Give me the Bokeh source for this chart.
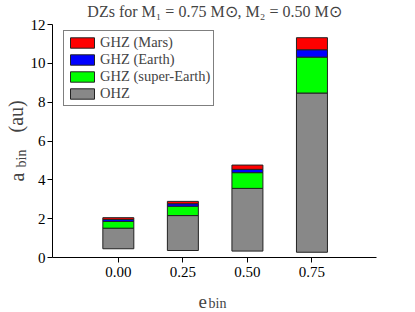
import math
from bokeh.plotting import figure
from bokeh.models import (Label, Legend, LegendItem, FixedTicker, NumeralTickFormatter, Range1d)
from bokeh.embed import file_html
from bokeh.resources import INLINE

# ---- data ----
e_bin = [0.00, 0.25, 0.50, 0.75]
ohz_inner = [0.45, 0.36, 0.33, 0.27]
ohz_outer = [1.51, 2.16, 3.56, 8.47]
ghz_super_earth = [1.86, 2.64, 4.37, 10.32]
ghz_earth = [1.96, 2.77, 4.54, 10.70]
ghz_mars = [2.05, 2.89, 4.76, 11.32]
x_ticks = [0.00, 0.25, 0.50, 0.75]
y_ticks = [0, 2, 4, 6, 8, 10, 12]
x_lim = (-0.255, 1.0)
y_lim = (0, 12)

FONT = "Liberation Serif"
W, H = 415, 312
# data area inside the canvas (px): left, right, top, bottom
L, R, T, B = 52, 376, 24, 257
sx = (R - L) / (x_lim[1] - x_lim[0])
sy = (B - T) / (y_lim[1] - y_lim[0])
xr = Range1d(x_lim[0] - L / sx, x_lim[1] + (W - R) / sx)
yr = Range1d(y_lim[0] - (H - B) / sy, y_lim[1] + T / sy)

p = figure(width=W, height=H, output_backend="svg", toolbar_location=None,
           x_range=xr, y_range=yr, min_border=0)
p.outline_line_color = None
p.xgrid.grid_line_color = None
p.ygrid.grid_line_color = None

w = 0.12
lc = "#222222"
r_ohz = p.vbar(x=e_bin, bottom=ohz_inner, top=ohz_outer, width=w, fill_color="#888888", line_color=lc, line_width=1)
r_sup = p.vbar(x=e_bin, bottom=ohz_outer, top=ghz_super_earth, width=w, fill_color="#00ff00", line_color=lc, line_width=1)
r_ear = p.vbar(x=e_bin, bottom=ghz_super_earth, top=ghz_earth, width=w, fill_color="#0000ff", line_color=lc, line_width=1)
r_mar = p.vbar(x=e_bin, bottom=ghz_earth, top=ghz_mars, width=w, fill_color="#ff0000", line_color=lc, line_width=1)

for ax in (p.xaxis[0], p.yaxis[0]):
    ax.axis_line_color = "black"
    ax.axis_line_width = 1
    ax.major_tick_line_color = "black"
    ax.major_tick_out = 5
    ax.major_tick_in = 0
    ax.minor_tick_line_color = None
    ax.major_label_text_font = FONT
    ax.major_label_text_font_size = "15px"
    ax.major_label_text_color = "black"

p.xaxis[0].ticker = FixedTicker(ticks=x_ticks)
p.xaxis[0].formatter = NumeralTickFormatter(format="0.00")
p.xaxis[0].major_label_standoff = 4
p.xaxis[0].fixed_location = y_lim[0]
p.xaxis[0].bounds = x_lim
p.yaxis[0].ticker = FixedTicker(ticks=y_ticks)
p.yaxis[0].major_label_standoff = 2
p.yaxis[0].fixed_location = x_lim[0]
p.yaxis[0].bounds = y_lim

legend = Legend(items=[
    LegendItem(label="GHZ (Mars)", renderers=[r_mar]),
    LegendItem(label="GHZ (Earth)", renderers=[r_ear]),
    LegendItem(label="GHZ (super-Earth)", renderers=[r_sup]),
    LegendItem(label="OHZ", renderers=[r_ohz]),
], location=(63, 206))
legend.glyph_width = 30
legend.glyph_height = 13
legend.label_height = 13
legend.label_standoff = 3
legend.padding = 3
legend.spacing = 0
legend.margin = 0
legend.label_text_font = FONT
legend.label_text_font_size = "14.5px"
legend.border_line_color = "black"
legend.border_line_width = 1.5
legend.background_fill_alpha = 1
p.add_layout(legend)

# title and axis labels (with subscripts), placed in screen units
p.add_layout(Label(x=214, y=301, x_units="screen", y_units="screen",
                   text="DZs for M\u2081 = 0.75 M\u2299, M\u2082 = 0.50 M\u2299",
                   text_font=FONT, text_font_size="16px", text_align="center",
                   text_baseline="alphabetic"))

# x label: e_bin
p.add_layout(Label(x=198, y=11, x_units="screen", y_units="screen", text="e",
                   text_font=FONT, text_font_size="19px", text_baseline="alphabetic"))
p.add_layout(Label(x=208, y=9, x_units="screen", y_units="screen", text="bin",
                   text_font=FONT, text_font_size="14px", text_baseline="alphabetic"))

# y label: a_bin (au)
rot = math.pi / 2
p.add_layout(Label(x=16, y=131, x_units="screen", y_units="screen", text="a", angle=rot,
                   text_font=FONT, text_font_size="20px", text_baseline="alphabetic"))
p.add_layout(Label(x=21, y=145, x_units="screen", y_units="screen", text="bin", angle=rot,
                   text_font=FONT, text_font_size="14px", text_baseline="alphabetic"))
p.add_layout(Label(x=15, y=180, x_units="screen", y_units="screen", text="(au)", angle=rot,
                   text_font=FONT, text_font_size="20px", text_baseline="alphabetic"))

open("out.html", "w").write(file_html(p, INLINE))
